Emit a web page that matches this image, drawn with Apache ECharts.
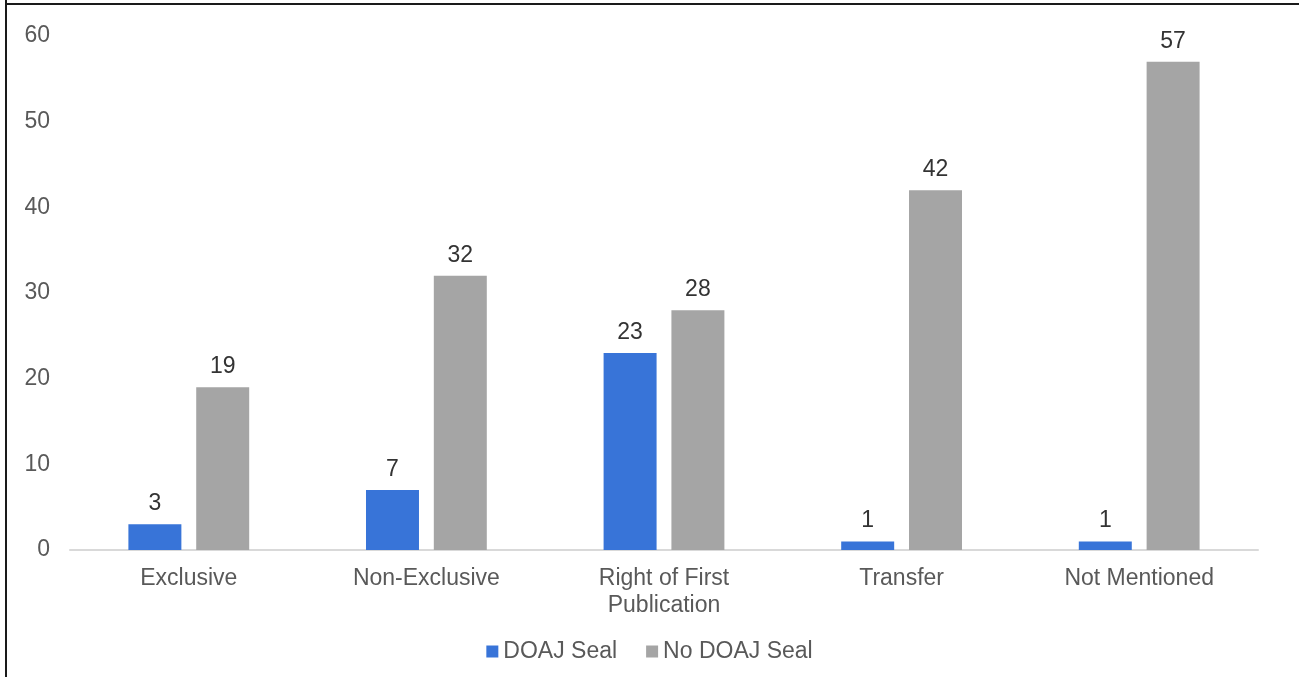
<!DOCTYPE html>
<html>
<head>
<meta charset="utf-8">
<script src="https://cdn.jsdelivr.net/npm/echarts@6/dist/echarts.min.js"></script>
<style>
html,body{margin:0;padding:0;background:#fff;}
#chart{width:1299px;height:677px;}
</style>
</head>
<body>
<div id="chart"></div>
<script>
const categories = ['Exclusive', 'Non-Exclusive', 'Right of First\nPublication', 'Transfer', 'Not Mentioned'];
const seriesNames = ['DOAJ Seal', 'No DOAJ Seal'];
const doajSeal = [3, 7, 23, 1, 1];
const noDoajSeal = [19, 32, 28, 42, 57];
const yTicks = [0, 10, 20, 30, 40, 50, 60];

const font = "'Liberation Sans', Arial, Helvetica, sans-serif";
const fs = 23;
const chart = echarts.init(document.getElementById('chart'));
chart.setOption({
  animation: false,
  textStyle: { fontFamily: font },
  graphic: [
    { type: 'line', shape: { x1: 6, y1: 0, x2: 6, y2: 677 }, style: { stroke: '#1a1a1a', lineWidth: 2 } },
    { type: 'line', shape: { x1: 6, y1: 4, x2: 1299, y2: 4 }, style: { stroke: '#1a1a1a', lineWidth: 2 } }
  ],
  grid: { left: 70, right: 41, top: 36, bottom: 127, containLabel: false },
  legend: {
    data: seriesNames,
    top: 635,
    left: 'center',
    itemWidth: 12,
    itemHeight: 12,
    itemGap: 29,
    icon: 'rect',
    textStyle: { color: '#595959', fontSize: fs, fontFamily: font }
  },
  xAxis: {
    type: 'category',
    data: categories,
    axisLine: { lineStyle: { color: '#d9d9d9', width: 2 } },
    axisTick: { show: false },
    axisLabel: { color: '#595959', fontSize: fs, margin: 15, lineHeight: 27, fontFamily: font }
  },
  yAxis: {
    type: 'value',
    min: yTicks[0],
    max: yTicks[yTicks.length - 1],
    interval: yTicks[1] - yTicks[0],
    splitLine: { show: false },
    axisLine: { show: false },
    axisTick: { show: false },
    axisLabel: { color: '#595959', fontSize: fs, margin: 20, fontFamily: font }
  },
  series: [
    {
      name: seriesNames[0],
      type: 'bar',
      data: doajSeal,
      barWidth: '22.3%',
      barGap: '28%',
      itemStyle: { color: '#3874d8' },
      label: { show: true, position: 'top', distance: 9, color: '#333', fontSize: fs, fontFamily: font }
    },
    {
      name: seriesNames[1],
      type: 'bar',
      data: noDoajSeal,
      barWidth: '22.3%',
      barGap: '28%',
      itemStyle: { color: '#a5a5a5' },
      label: { show: true, position: 'top', distance: 9, color: '#333', fontSize: fs, fontFamily: font }
    }
  ]
});
</script>
</body>
</html>
